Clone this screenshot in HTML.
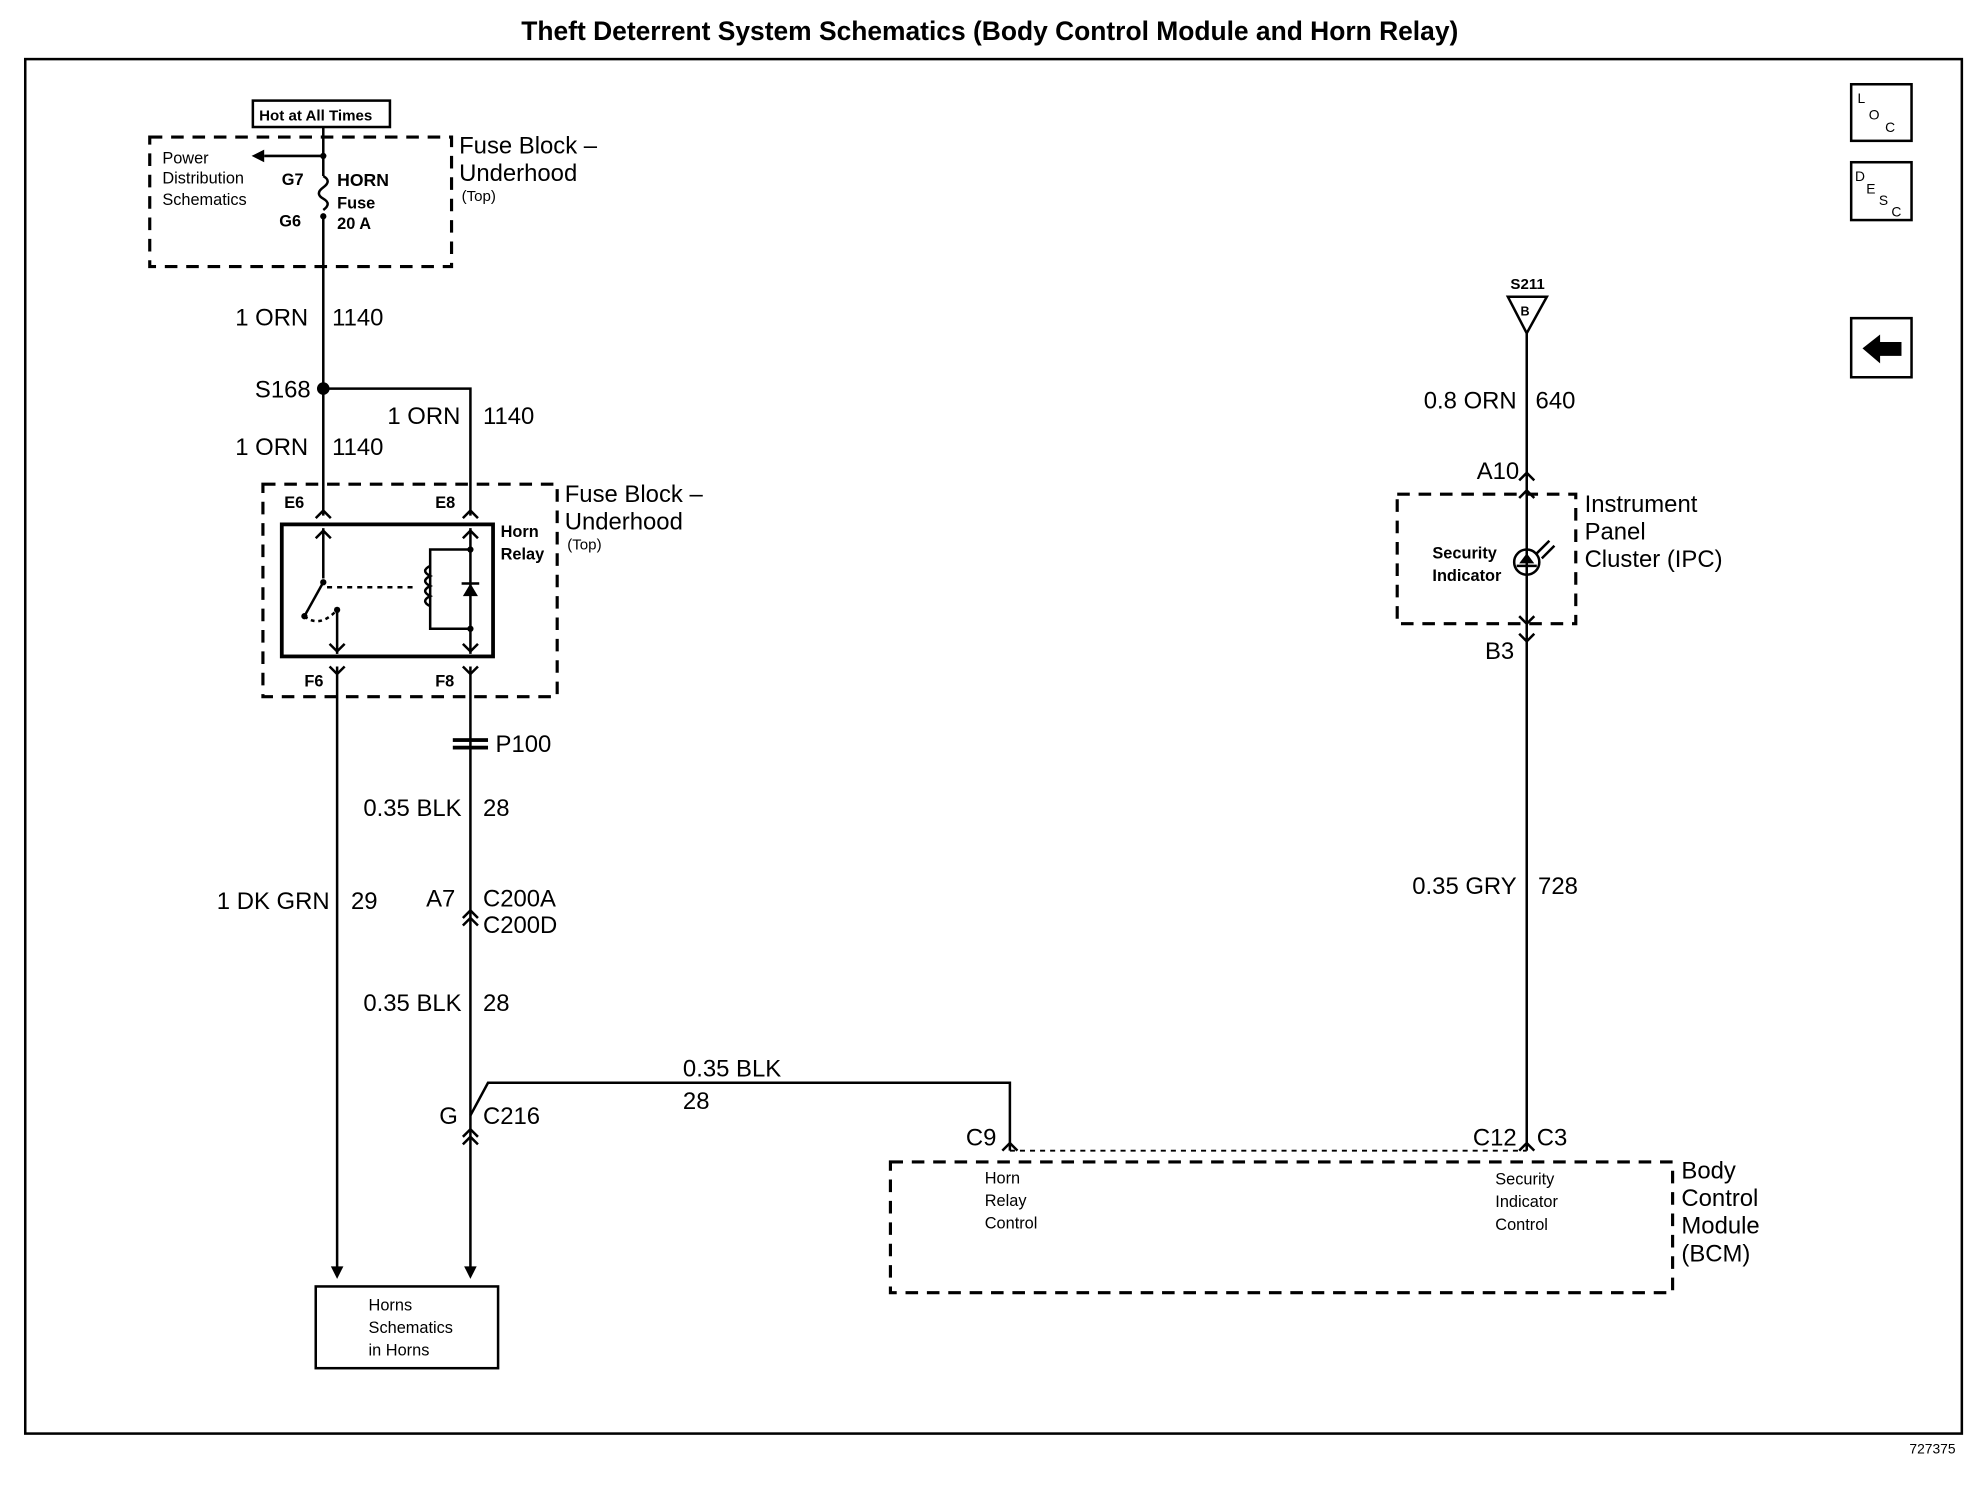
<!DOCTYPE html>
<html><head><style>html,body{margin:0;padding:0;background:#fff}svg{display:block}</style></head>
<body>
<svg width="1972" height="1504" viewBox="0 0 1568 1196" xmlns="http://www.w3.org/2000/svg" font-family="Liberation Sans, sans-serif" font-weight="bold">
<rect width="1568" height="1196" fill="#fff"/>
<text x="787" y="32" font-size="21" text-anchor="middle">Theft Deterrent System Schematics (Body Control Module and Horn Relay)</text>
<rect x="20" y="47" width="1540" height="1093" fill="none" stroke="#000" stroke-width="2"/>
<text x="1555" y="1156" font-size="11" text-anchor="end" font-weight="normal">727375</text>
<g fill="none" stroke="#000" stroke-width="2">
<rect x="1472" y="67" width="48" height="45"/><rect x="1472" y="129" width="48" height="46"/><rect x="1472" y="253" width="48" height="47"/>
</g>
<g font-size="11" font-weight="normal"><text x="1477" y="82">L</text><text x="1486" y="95">O</text><text x="1499" y="105">C</text>
<text x="1475" y="144">D</text><text x="1484" y="154">E</text><text x="1494" y="163">S</text><text x="1504" y="172">C</text></g>
<path d="M1481 277 L1495 266 L1495 272 L1512 272 L1512 283 L1495 283 L1495 289 Z" fill="#000"/>
<g fill="none" stroke="#000" stroke-width="2.5" stroke-dasharray="10,7">
<rect x="119" y="109" width="240" height="103"/>
<rect x="209" y="385" width="234" height="169"/>
<rect x="1111" y="393" width="142" height="103"/>
<rect x="708" y="924" width="622" height="104"/>
<line x1="803" y1="915" x2="1214" y2="915" stroke-width="1.5" stroke-dasharray="4,4"/>
</g>
<g fill="none" stroke="#000" stroke-width="2">
<rect x="201" y="80" width="109" height="21"/>
<line x1="257" y1="101" x2="257" y2="140"/>
<path d="M257 140 q7 4 0 9 q-7 5 0 9 q7 4 0 9"/>
<line x1="257" y1="170" x2="257" y2="410"/>
<line x1="257" y1="124" x2="210" y2="124"/>
<polyline points="257,309 374,309 374,410"/>
<rect x="224" y="417" width="168" height="105" stroke-width="3"/>
<line x1="257" y1="420" x2="257" y2="460"/><line x1="257" y1="463" x2="242" y2="490"/>
<line x1="268" y1="485" x2="268" y2="520"/>
<path d="M242 490 q12 10 26 -5" stroke-dasharray="3,3"/>
<line x1="260" y1="467" x2="332" y2="467" stroke-dasharray="4,4"/>
<line x1="374" y1="420" x2="374" y2="520"/>
<polyline points="374,437 342,437 342,500 374,500"/>
<path d="M342 450 q-8 4 0 8 q-8 4 0 8 q-8 4 0 8 q-8 4 0 8"/>
<line x1="268" y1="530" x2="268" y2="1010"/>
<line x1="374" y1="530" x2="374" y2="1010"/>
<polyline points="374,887 388,861 803,861 803,915"/>
<rect x="251" y="1023" width="145" height="65"/>
<line x1="1214" y1="265" x2="1214" y2="915"/>
<polygon points="1199,236 1230,236 1214,265"/>
<circle cx="1214" cy="447" r="10"/>
<path d="M1222 440 l10 -10 M1226 444 l10 -10"/>
</g>
<g fill="#000"><circle cx="257" cy="309" r="5"/><circle cx="257" cy="124" r="2.5"/><circle cx="257" cy="172" r="2.5"/>
<path d="M200 124 l10 -5 v10z"/>
<path d="M268 1017 l-5 -10 h10z"/><path d="M374 1017 l-5 -10 h10z"/>
<path d="M1214 440 l-6 8 h12z"/><rect x="1206" y="449" width="16" height="2"/>
<path d="M374 464 l-6 10 h12z"/><rect x="367" y="463" width="14" height="2"/>
<circle cx="257" cy="463" r="2.5"/><circle cx="242" cy="490" r="2.5"/><circle cx="268" cy="485" r="2.5"/><circle cx="374" cy="437" r="2.5"/><circle cx="374" cy="500" r="2.5"/>
<rect x="360" y="587" width="28" height="3"/><rect x="360" y="593" width="28" height="3"/></g>
<g fill="none" stroke="#000" stroke-width="2">
<path d="M251 412 l6 -6 l6 6 M368 412 l6 -6 l6 6 M251 428 l6 -6 l6 6 M368 428 l6 -6 l6 6"/>
<path d="M262 512 l6 6 l6 -6 M368 512 l6 6 l6 -6 M262 530 l6 6 l6 -6 M368 530 l6 6 l6 -6"/>
<path d="M368 730 l6 -6 l6 6 M368 736 l6 -6 l6 6 M368 904 l6 -6 l6 6 M368 910 l6 -6 l6 6"/>
<path d="M797 915 l6 -6 l6 6 M1208 915 l6 -6 l6 6"/>
<path d="M1208 382 l6 -6 l6 6 M1208 396 l6 -6 l6 6 M1208 490 l6 6 l6 -6 M1208 504 l6 6 l6 -6"/>
</g>
<g font-size="11"><text x="206" y="96" font-size="12">Hot at All Times</text>
<text x="129" y="130" font-weight="normal" font-size="13">Power</text><text x="129" y="146" font-weight="normal" font-size="13">Distribution</text><text x="129" y="163" font-weight="normal" font-size="13">Schematics</text>
<text x="224" y="147" font-size="13">G7</text><text x="222" y="180" font-size="13">G6</text>
<text x="268" y="148" font-size="14">HORN</text><text x="268" y="166" font-size="13">Fuse</text><text x="268" y="182" font-size="13">20 A</text>
<text x="226" y="404" font-size="13">E6</text><text x="346" y="404" font-size="13">E8</text>
<text x="398" y="427" font-size="13">Horn</text><text x="398" y="445" font-size="13">Relay</text>
<text x="242" y="546" font-size="13">F6</text><text x="346" y="546" font-size="13">F8</text>
<text x="1201" y="230" font-size="12">S211</text><text x="1209" y="251" font-size="10">B</text>
<text x="1139" y="444" font-size="13">Security</text><text x="1139" y="462" font-size="13">Indicator</text>
<g font-weight="normal" font-size="13"><text x="783" y="941">Horn</text><text x="783" y="959">Relay</text><text x="783" y="977">Control</text>
<text x="1189" y="942">Security</text><text x="1189" y="960">Indicator</text><text x="1189" y="978">Control</text>
<text x="293" y="1042">Horns</text><text x="293" y="1060">Schematics</text><text x="293" y="1078">in Horns</text></g>
</g>
<g font-size="19" font-weight="normal">
<text x="365" y="122">Fuse Block –</text><text x="365" y="144">Underhood</text><text x="367" y="160" font-size="12">(Top)</text>
<text x="449" y="399">Fuse Block –</text><text x="449" y="421">Underhood</text><text x="451" y="437" font-size="12">(Top)</text>
<text x="1260" y="407">Instrument</text><text x="1260" y="429">Panel</text><text x="1260" y="451">Cluster (IPC)</text>
<text x="1337" y="937">Body</text><text x="1337" y="959">Control</text><text x="1337" y="981">Module</text><text x="1337" y="1003">(BCM)</text>
<text x="245" y="259" text-anchor="end">1 ORN</text><text x="264" y="259">1140</text>
<text x="247" y="316" text-anchor="end">S168</text>
<text x="366" y="337" text-anchor="end">1 ORN</text><text x="384" y="337">1140</text>
<text x="245" y="362" text-anchor="end">1 ORN</text><text x="264" y="362">1140</text>
<text x="394" y="598">P100</text>
<text x="367" y="649" text-anchor="end">0.35 BLK</text><text x="384" y="649">28</text>
<text x="262" y="723" text-anchor="end">1 DK GRN</text><text x="279" y="723">29</text>
<text x="362" y="721" text-anchor="end">A7</text><text x="384" y="721">C200A</text><text x="384" y="742">C200D</text>
<text x="367" y="804" text-anchor="end">0.35 BLK</text><text x="384" y="804">28</text>
<text x="543" y="856">0.35 BLK</text><text x="543" y="882">28</text>
<text x="364" y="894" text-anchor="end">G</text><text x="384" y="894">C216</text>
<text x="768" y="911">C9</text>
<text x="1206" y="325" text-anchor="end">0.8 ORN</text><text x="1221" y="325">640</text>
<text x="1208" y="381" text-anchor="end">A10</text>
<text x="1204" y="524" text-anchor="end">B3</text>
<text x="1206" y="711" text-anchor="end">0.35 GRY</text><text x="1223" y="711">728</text>
<text x="1206" y="911" text-anchor="end">C12</text><text x="1222" y="911">C3</text>
</g>
</svg>
</body></html>
